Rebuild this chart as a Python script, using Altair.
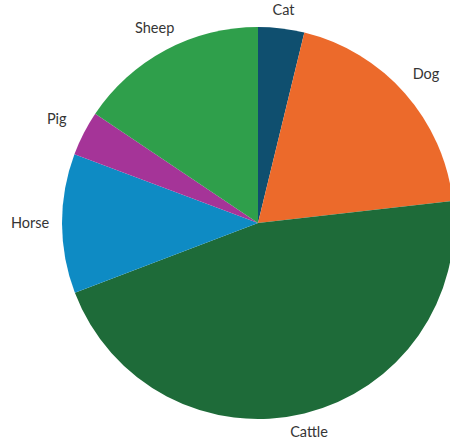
import altair as alt
import pandas as pd

animals = ["Cat", "Dog", "Cattle", "Horse", "Pig", "Sheep"]
shares = [3.8, 19.4, 46.0, 11.5, 3.7, 15.6]
colors = ["#0f4f6f", "#ec6a2b", "#1e6b39", "#0e8bc4", "#a53498", "#2f9f4b"]

df = pd.DataFrame({"animal": animals, "share": shares, "order": list(range(len(animals)))})

CX, CY, R = 258, 223, 196
theta_scale = alt.Scale(domain=[0, sum(shares)], range=[0, 6.283185307179586])

pie = alt.Chart(df).mark_arc(radius=R).encode(
    theta=alt.Theta("share:Q", stack=True, scale=theta_scale),
    order=alt.Order("order:Q"),
    x=alt.value(CX),
    y=alt.value(CY),
    color=alt.Color("animal:N", scale=alt.Scale(domain=animals, range=colors), legend=None),
)

# label distance grows where text extends sideways from the pie
labels = (
    alt.Chart(df)
    .transform_joinaggregate(total="sum(share)")
    .transform_window(cum="sum(share)", sort=[alt.SortField("order")], frame=[None, 0])
    .transform_calculate(
        midv="datum.cum - datum.share / 2",
        lr="212 + 16 * abs(sin(datum.midv / datum.total * 2 * PI))",
    )
    .mark_text(font="Lato", fontSize=14.5, color="#353535", align="center", baseline="middle")
    .encode(
        theta=alt.Theta("midv:Q", stack=None, scale=theta_scale),
        radius=alt.Radius("lr:Q", scale=None),
        x=alt.value(CX),
        y=alt.value(CY),
        text="animal:N",
    )
)

chart = (pie + labels).properties(
    width=450, height=444, padding=0, autosize=alt.AutoSizeParams(type="none")
).configure_view(stroke=None)

chart.save("out.html", embed_options={"renderer": "svg", "actions": False})
